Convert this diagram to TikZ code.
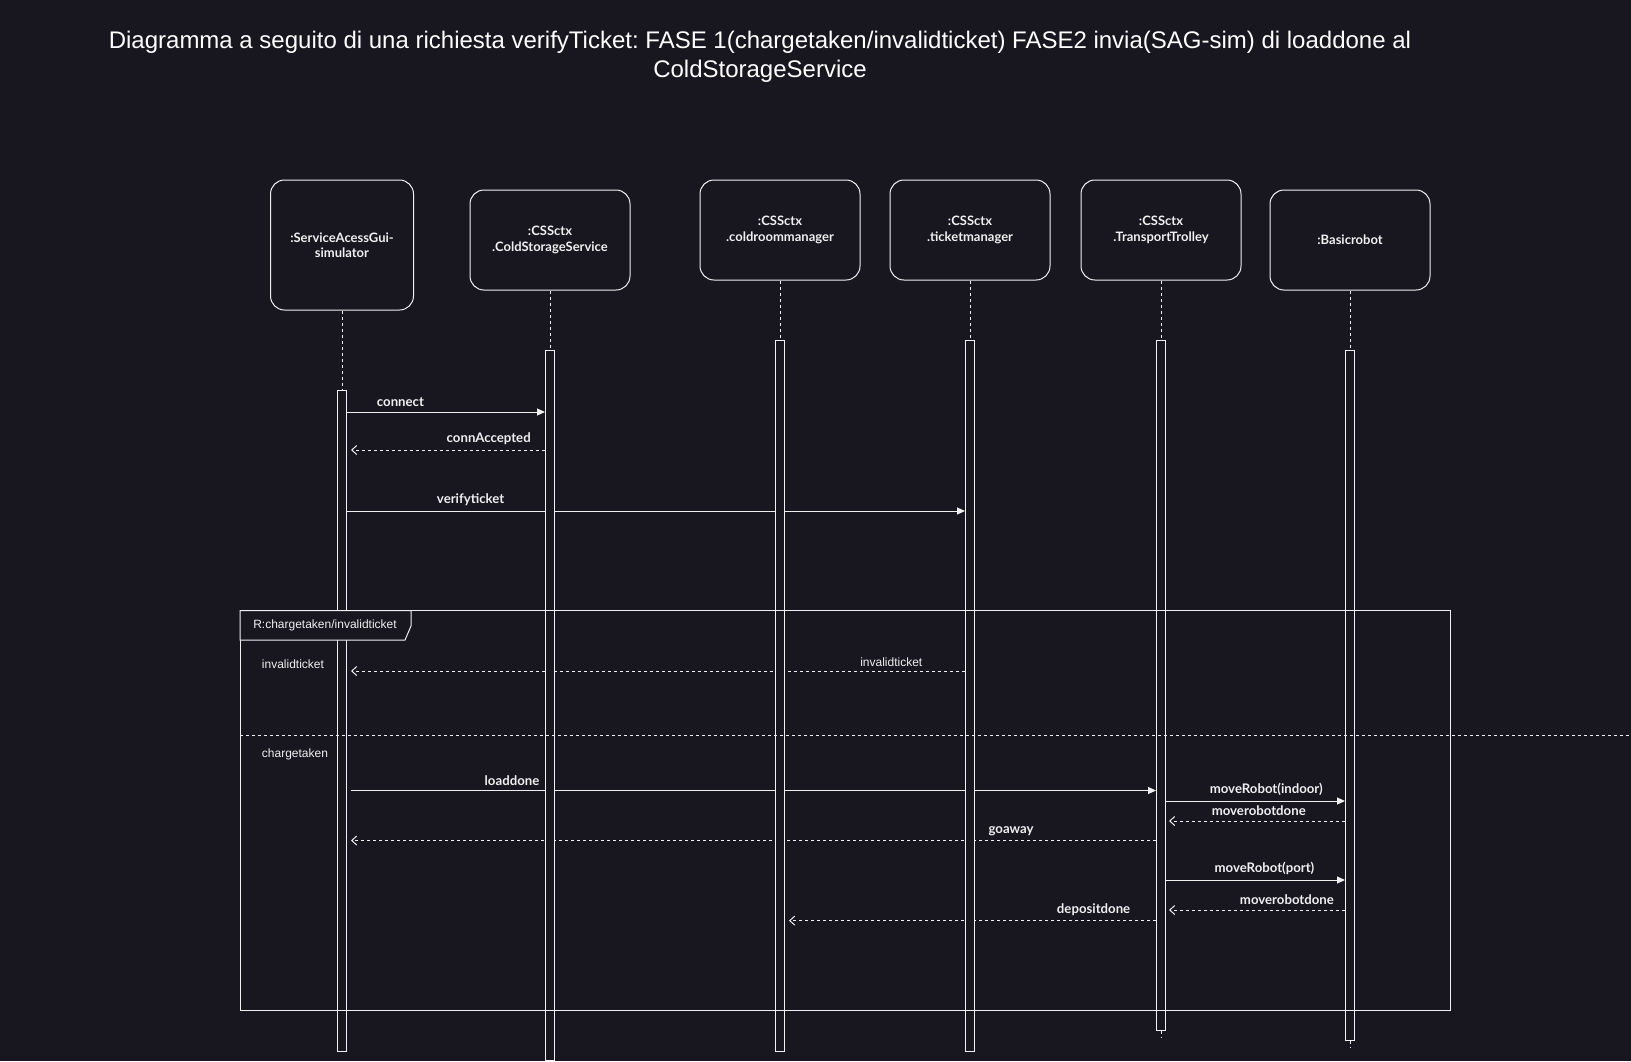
\documentclass[tikz,border=0pt]{standalone}
\usepackage{fontspec}
\setmainfont{Liberation Sans}
\newfontfamily\lato{Lato}
\usetikzlibrary{arrows.meta}
\definecolor{bg}{RGB}{24,22,31}
\definecolor{fg}{RGB}{240,240,240}
\pgfdeclarelayer{bgl}
\pgfdeclarelayer{back}
\pgfsetlayers{bgl,back,main}
\frenchspacing
\begin{document}
\begin{tikzpicture}[x=1pt,y=-1pt,
  every node/.style={text=fg},
  head/.style={draw=fg, line width=1pt, rounded corners=14pt, fill=bg, align=center,
    font=\lato\bfseries\fontsize{13}{15.5}\selectfont, inner sep=0},
  bar/.style={draw=fg, line width=1pt, fill=bg, minimum width=9pt, inner sep=0},
  life/.style={draw=fg, line width=0.9pt, dash pattern=on 3pt off 3pt},
  msg/.style={draw=fg, line width=1pt, -{Triangle[length=8pt,width=7pt]}},
  ret/.style={draw=fg, line width=1pt, dash pattern=on 3pt off 3pt, -{Straight Barb[length=5pt,width=9pt]}},
  lbl/.style={font=\lato\bfseries\fontsize{13.2}{15}\selectfont, inner sep=0pt, anchor=south, yshift=4.5pt},
  flbl/.style={font=\fontsize{12}{14}\selectfont, inner sep=0},
  frameline/.style={draw=fg, line width=1pt}
]
\begin{pgfonlayer}{bgl}
\fill[bg] (0,0) rectangle (1631,1061);
\end{pgfonlayer}
\useasboundingbox (0,0) rectangle (1631,1061);

% title
\node[font=\fontsize{24}{28.5}\selectfont, align=center, inner sep=0, text=white] (title) at (760,57)
  {Diagramma a seguito di una richiesta verifyTicket: FASE 1(chargetaken/invalidticket) FASE2 invia(SAG-sim) di loaddone al\\ColdStorageService};

% heads
\node[head, minimum width=143pt, minimum height=130pt] (h1) at (342,245) {:ServiceAcessGui-\\simulator};
\node[head, minimum width=160pt, minimum height=100pt] (h2) at (550,240) {:CSSctx\\.ColdStorageService};
\node[head, minimum width=160pt, minimum height=100pt] (h3) at (780,230) {:CSSctx\\.coldroommanager};
\node[head, minimum width=160pt, minimum height=100pt] (h4) at (970,230) {:CSSctx\\.ticketmanager};
\node[head, minimum width=160pt, minimum height=100pt] (h5) at (1161,230) {:CSSctx\\.TransportTrolley};
\node[head, minimum width=160pt, minimum height=100pt] (h6) at (1350,240) {:Basicrobot};

% activation bars
\node[bar, minimum height=661pt] (b1) at (342,720.5) {};
\node[bar, minimum height=710pt] (b2) at (550,705) {};
\node[bar, minimum height=711pt] (b3) at (780,695.5) {};
\node[bar, minimum height=711pt] (b4) at (970,695.5) {};
\node[bar, minimum height=690pt] (b5) at (1161,685) {};
\node[bar, minimum height=690pt] (b6) at (1350,695) {};

\coordinate (e5) at (1161,1037);
\coordinate (e6) at (1350,1047);

% message levels
\coordinate (y1) at (0,412);
\coordinate (y2) at (0,450);
\coordinate (y3) at (0,511);
\coordinate (y4) at (0,671);
\coordinate (y5) at (0,790.5);
\coordinate (y6) at (0,801);
\coordinate (y7) at (0,821);
\coordinate (y8) at (0,840.5);
\coordinate (y9) at (0,880);
\coordinate (y10) at (0,910);
\coordinate (y11) at (0,920.6);

\begin{pgfonlayer}{back}
% lifelines
\draw[life] (h1.south) -- (b1.north);
\draw[life] (h2.south) -- (b2.north);
\draw[life] (h3.south) -- (b3.north);
\draw[life] (h4.south) -- (b4.north);
\draw[life] (h5.south) -- (e5);
\draw[life] (h6.south) -- (e6);

% messages
\draw[msg] (b1.east |- y1) -- node[lbl,pos=.27]{connect} (b2.west |- y1);
\draw[ret] (b2.west |- y2) -- node[lbl,pos=.29]{connAccepted} ([xshift=4pt]b1.east |- y2);
\draw[msg] (b1.east |- y3) -- node[lbl,pos=.20]{verifyticket} (b4.west |- y3);
\draw[ret] (b4.west |- y4) -- node[lbl,pos=.12,font=\fontsize{12}{14}\selectfont,yshift=-1pt]{invalidticket} ([xshift=4pt]b1.east |- y4);
\draw[msg] ([xshift=4pt]b1.east |- y5) -- node[lbl,pos=.20]{loaddone} (b5.west |- y5);
\draw[msg] (b5.east |- y6) -- node[lbl,pos=.56]{moveRobot(indoor)} (b6.west |- y6);
\draw[ret] (b6.west |- y7) -- node[lbl,pos=.49]{moverobotdone} ([xshift=3pt]b5.east |- y7);
\draw[ret] (b5.west |- y8) -- node[lbl,pos=.18]{goaway} ([xshift=4pt]b1.east |- y8);
\draw[msg] (b5.east |- y9) -- node[lbl,pos=.55]{moveRobot(port)} (b6.west |- y9);
\draw[ret] (b6.west |- y10) -- node[lbl,pos=.33]{moverobotdone} ([xshift=3pt]b5.east |- y10);
\draw[ret] (b5.west |- y11) -- node[lbl,pos=.17]{depositdone} ([xshift=4pt]b3.east |- y11);
\end{pgfonlayer}

% combined fragment frame
\draw[frameline] (240,610.6) rectangle (1450,1010);
\filldraw[frameline, fill=bg] (240,610.6) -- (411,610.6) -- (411,626) -- (405,640) -- (240,640) -- cycle;
\node[flbl] (ft) at (325,625) {R:chargetaken/invalidticket};
\draw[frameline, dash pattern=on 3pt off 3pt] (240,735) -- (1631,735);
\node[flbl] (g1) at (293,664) {invalidticket};
\node[flbl] (g2) at (295,754) {chargetaken};
\end{tikzpicture}
\end{document}
